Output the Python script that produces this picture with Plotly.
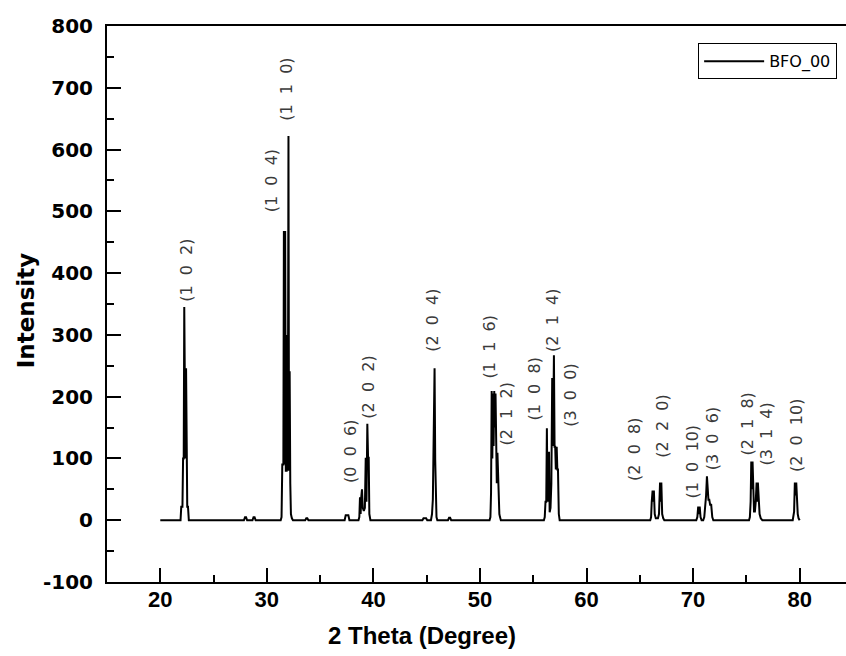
import plotly.graph_objects as go

# ---------------- data ----------------
two_theta = [
    20.0, 21.9, 21.97, 22.08, 22.14, 22.2, 22.25, 22.3, 22.36, 22.42, 22.48, 22.53, 22.6, 22.68,
    27.85, 27.95, 28.05, 28.15, 28.65, 28.75, 28.85, 28.95,
    31.3, 31.38, 31.45, 31.55, 31.6, 31.66, 31.72, 31.78, 31.86, 31.92, 31.97, 32.03, 32.08, 32.14, 32.2, 32.26, 32.35, 32.45,
    33.6, 33.7, 33.8, 33.9,
    37.3, 37.4, 37.65, 37.75,
    38.6, 38.68, 38.74, 38.8, 38.86, 38.93, 39.0, 39.1, 39.2, 39.28, 39.35, 39.43, 39.5, 39.56, 39.62, 39.72,
    44.6, 44.7, 44.95, 45.05,
    45.4, 45.5, 45.58, 45.63, 45.69, 45.74, 45.8, 45.86, 45.92, 46.0,
    47.0, 47.1, 47.2, 47.3,
    50.9, 50.98, 51.04, 51.1, 51.16, 51.22, 51.28, 51.34, 51.4, 51.46, 51.52, 51.58, 51.64, 51.7, 51.76, 51.82, 51.88, 51.96,
    56.0, 56.08, 56.15, 56.22, 56.28, 56.34, 56.42, 56.48, 56.54, 56.62, 56.7, 56.78, 56.86, 56.94, 57.0, 57.06, 57.12, 57.2, 57.26, 57.32, 57.4, 57.48,
    65.98, 66.06, 66.12, 66.2, 66.26, 66.32, 66.4, 66.5, 66.7, 66.8, 66.9, 66.96, 67.02, 67.1, 67.2, 67.3,
    70.3, 70.4, 70.48, 70.55, 70.62, 70.7, 70.8, 70.95, 71.05, 71.15, 71.22, 71.3, 71.36, 71.44, 71.52, 71.6, 71.7, 71.8, 71.9,
    75.25, 75.33, 75.4, 75.46, 75.52, 75.58, 75.64, 75.72, 75.8, 75.88, 75.96, 76.02, 76.08, 76.16, 76.24, 76.35, 76.5,
    79.35, 79.42, 79.48, 79.55, 79.62, 79.68, 79.75, 79.82, 79.9, 80.0,
]
intensity = [
    0, 0, 22, 22, 100, 100, 345, 100, 100, 246, 60, 22, 22, 0,
    0, 5, 5, 0, 0, 5, 5, 0,
    0, 5, 90, 90, 468, 90, 468, 80, 80, 300, 80, 622, 80, 241, 60, 10, 3, 0,
    0, 3, 3, 0,
    0, 8, 8, 0,
    0, 5, 37, 10, 37, 50, 20, 15, 20, 101, 30, 156, 101, 101, 10, 0,
    0, 3, 3, 0,
    0, 10, 34, 98, 98, 246, 98, 34, 5, 0,
    0, 4, 4, 0,
    0, 5, 45, 209, 100, 205, 120, 209, 150, 205, 109, 60, 109, 61, 61, 10, 5, 0,
    0, 5, 30, 30, 149, 30, 40, 111, 13, 20, 60, 230, 120, 267, 119, 119, 82, 119, 82, 82, 10, 0,
    0, 5, 30, 48, 30, 48, 10, 3, 3, 10, 61, 30, 61, 10, 3, 0,
    0, 5, 22, 10, 22, 5, 0, 0, 5, 25, 40, 71, 40, 33, 33, 25, 25, 5, 0,
    0, 5, 30, 95, 50, 95, 30, 14, 14, 30, 61, 30, 61, 30, 10, 3, 0,
    0, 5, 14, 61, 40, 61, 14, 10, 3, 0,
]

peak_labels = ["(1 0 2)", "(1 0 4)", "(1 1 0)", "(0 0 6)", "(2 0 2)", "(2 0 4)", "(1 1 6)",
               "(2 1 2)", "(1 0 8)", "(2 1 4)", "(3 0 0)", "(2 0 8)", "(2 2 0)", "(1 0 10)",
               "(3 0 6)", "(2 1 8)", "(3 1 4)", "(2 0 10)"]
label_x = [22.47, 30.45, 31.85, 37.9, 39.46, 45.55, 50.9, 52.47, 55.13, 56.82, 58.42,
           64.5, 67.15, 69.96, 71.9, 75.1, 76.9, 79.7]
label_y = [352, 497, 645, 58, 163, 271, 228, 119, 160, 271, 150,
           62, 100, 33, 79, 103, 87, 77]

y_ticks = [-100, 0, 100, 200, 300, 400, 500, 600, 700, 800]
y_ticktext = [str(v) for v in y_ticks]
x_ticks = [20, 30, 40, 50, 60, 70, 80]

series_name = "BFO_00"
x_title = "2 Theta (Degree)"
y_title = "Intensity"

# ---------------- figure ----------------
fig = go.Figure()
fig.add_trace(go.Scatter(x=two_theta, y=intensity, mode="lines", name=series_name,
                         line=dict(color="black", width=2)))

FS = "\u2007"
for txt, lx, ly in zip(peak_labels, label_x, label_y):
    fig.add_annotation(x=lx, y=ly, xref="x", yref="y", text=txt.replace(" ", FS),
                       textangle=-90, showarrow=False, xanchor="center", yanchor="bottom",
                       font=dict(family="DejaVu Sans", size=16, color="#3a3a3a"),
                       borderpad=0)

fig.add_annotation(x=44.6, y=-0.097, xref="x", yref="paper", text=x_title, showarrow=False,
                   xanchor="center", yanchor="middle",
                   font=dict(family="Liberation Sans", size=24, color="black", weight="bold"))
fig.add_annotation(x=-0.1096, y=0.487, xref="paper", yref="paper", text=y_title, showarrow=False,
                   textangle=-90, xanchor="center", yanchor="middle",
                   font=dict(family="DejaVu Sans", size=23, color="black", weight="bold"))

axis_common = dict(showline=True, linecolor="black", linewidth=2, mirror=True,
                   ticks="inside", ticklen=14, tickwidth=2, tickcolor="black",
                   showgrid=False, zeroline=False)

fig.update_xaxes(range=[15, 84.35], tickvals=x_ticks, ticklabelstandoff=-3,
                 tickfont=dict(family="Liberation Sans", size=22, color="black", weight="bold"),
                 minor=dict(dtick=5, tick0=0, ticks="inside", ticklen=7, tickwidth=2, tickcolor="black"),
                 **axis_common)
fig.update_yaxes(range=[-100, 800], tickvals=y_ticks, ticktext=y_ticktext, ticklabelstandoff=8,
                 tickfont=dict(family="DejaVu Sans", size=20, color="black", weight="bold"),
                 minor=dict(dtick=50, tick0=0, ticks="inside", ticklen=7, tickwidth=2, tickcolor="black"),
                 **axis_common)

fig.update_layout(
    width=846, height=656,
    margin=dict(l=107, r=0, t=26, b=74, autoexpand=False),
    paper_bgcolor="white", plot_bgcolor="white",
    showlegend=True,
    legend=dict(x=0.988, xanchor="right", y=0.969, yanchor="top",
                bordercolor="black", borderwidth=1, bgcolor="white",
                font=dict(family="DejaVu Sans", size=16, color="black"),
                itemwidth=60, tracegroupgap=0),
)

fig.write_html("out.html")
